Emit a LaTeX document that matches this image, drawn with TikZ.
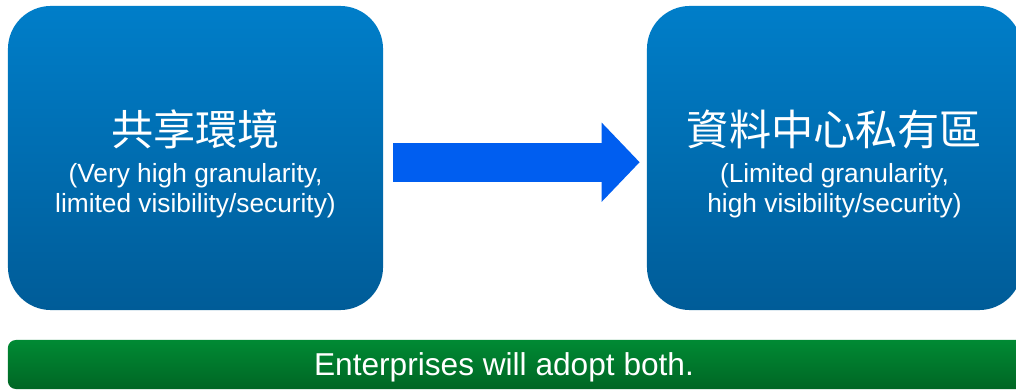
\documentclass[tikz,border=0pt]{standalone}
\usepackage{fontspec}
\setmainfont{Liberation Sans}
\newfontfamily\cjk{Noto Sans CJK TC}
\usetikzlibrary{arrows.meta,positioning}
\definecolor{boxtop}{RGB}{0,126,201}
\definecolor{boxbot}{RGB}{0,92,152}
\definecolor{arrowblue}{RGB}{0,94,240}
\definecolor{bartop}{RGB}{0,138,52}
\definecolor{barbot}{RGB}{0,102,36}
\tikzset{
	bluebox/.style={rounded corners=1.075cm, minimum width=9.375cm, minimum height=7.6cm, top color=boxtop, bottom color=boxbot, inner sep=0pt},
	boxtext/.style={text=white, align=center, yshift=-4pt, font=\fontsize{18.7}{21.3}\selectfont},
	bigarrow/.style={arrowblue, line width=0.975cm, -{Triangle[length=0.95cm,width=1.925cm]}},
	greenbar/.style={rounded corners=0.2cm, minimum width=25.4cm, minimum height=1.225cm, top color=bartop, bottom color=barbot, inner sep=0pt},
	bartext/.style={text=white, font=\fontsize{22.5}{26}\selectfont}
}
\newcommand{\bigcjk}[1]{{\cjk\fontsize{30}{34}\selectfont #1}}
\begin{document}
\begin{tikzpicture}[x=0.025cm,y=0.025cm]
	\useasboundingbox (0,0) rectangle (1016,390);
	\clip (0,0) rectangle (1016,390);
	\node[bluebox, label={[boxtext]center:\bigcjk{共享環境}\\[4.8pt](Very high granularity,\\limited visibility/security)}] (shared) at (195.5,232) {};
	\node[bluebox, label={[boxtext]center:\bigcjk{資料中心私有區}\\[4.8pt](Limited granularity,\\high visibility/security)}] (private) at (834.5,232) {};
	\draw[bigarrow, shorten <=0.25cm, shorten >=0.175cm] ([yshift=-3]shared.east) -- ([yshift=-3]private.west);
	\node[greenbar] (bar) at (516,25.5) {};
	\node[bartext] (both) at (504,23) {Enterprises will adopt both.};
\end{tikzpicture}
\end{document}
